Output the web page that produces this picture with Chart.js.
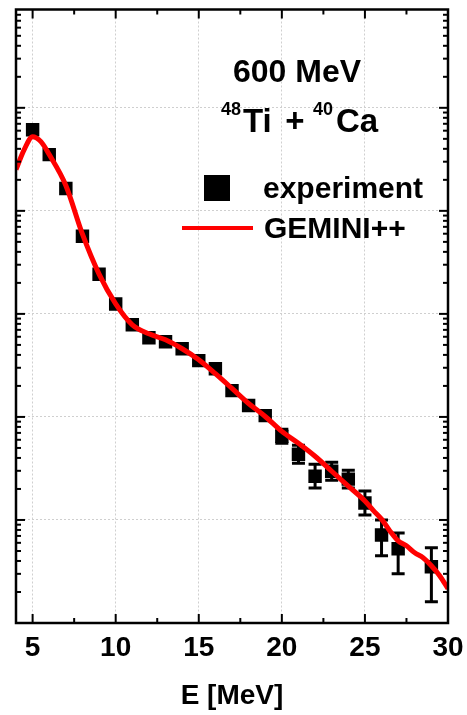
<!DOCTYPE html>
<html>
<head>
<meta charset="utf-8">
<script src="https://cdn.jsdelivr.net/npm/chart.js@4.4.1/dist/chart.umd.min.js"></script>
<style>
  html, body { margin: 0; padding: 0; background: #fff; }
  #wrap { width: 467px; height: 715px; position: relative; }
</style>
</head>
<body>
<div id="wrap"><canvas id="c" width="467" height="715"></canvas></div>
<script>
// Measured spectrum (arb. units, log scale)
const expE   = [5, 6, 7, 8, 9, 10, 11, 12, 13, 14, 15, 16, 17, 18, 19, 20, 21, 22, 23, 24, 25, 26, 27, 29];
const expVal = [6120, 3515, 1649, 567, 243, 125, 78.3, 58.6, 53.6, 45.9, 35.2, 29.4, 18.0, 12.9, 10.3,
                6.48, 4.34, 2.66, 2.97, 2.49, 1.46, 0.716, 0.525, 0.351];
const expLow  = [null, null, null, null, null, null, null, null, null, null, null, null, null, null, null,
                 5.54, 3.56, 2.04, 2.43, 2.04, 1.12, 0.449, 0.301, 0.161];
const expHigh = [null, null, null, null, null, null, null, null, null, null, null, null, null, null, null,
                 7.58, 5.31, 3.48, 3.63, 3.04, 1.91, 1.00, 0.749, 0.536];

// GEMINI++ calculation
const calcE   = [4, 4.5, 5, 5.5, 6, 7, 8, 9, 10, 11, 12, 13, 14, 15, 16, 17, 18, 19, 20, 21, 22, 23, 24, 25,
                 25.5, 26, 26.5, 27, 27.5, 28, 28.5, 29, 29.5, 30];
const calcVal = [2518, 3950, 5248, 4693, 3515, 1763, 593, 243, 125, 78.3, 64.1, 56.1, 45.9, 35.9, 26.3, 18.9,
                 13.5, 10.1, 7.24, 5.55, 4.15, 2.97, 2.13, 1.53, 1.24, 1.02, 0.783, 0.627, 0.561, 0.480,
                 0.430, 0.360, 0.288, 0.215];

const xTicks = [5, 10, 15, 20, 25, 30];
const xMinor = [7.5, 12.5, 17.5, 22.5, 27.5];
const yMin = 0.1, yMax = 9e4;

const FONT = '"Liberation Sans", Arial, Helvetica, sans-serif';

const isDecade = v => {
  const l = Math.log10(v);
  return Math.abs(l - Math.round(l)) < 1e-9;
};

// Error bars under the markers
const errorBars = {
  id: 'errorBars',
  beforeDatasetsDraw(chart) {
    const { ctx, chartArea: a, scales: { x, y } } = chart;
    ctx.save();
    ctx.beginPath();
    ctx.rect(a.left, a.top, a.right - a.left, a.bottom - a.top);
    ctx.clip();
    ctx.strokeStyle = '#000';
    ctx.lineWidth = 3;
    expE.forEach((e, i) => {
      if (expLow[i] == null) return;
      const px = x.getPixelForValue(e);
      const yl = y.getPixelForValue(expLow[i]);
      const yh = y.getPixelForValue(expHigh[i]);
      ctx.beginPath();
      ctx.moveTo(px, yl); ctx.lineTo(px, yh);
      ctx.moveTo(px - 6.5, yl); ctx.lineTo(px + 6.5, yl);
      ctx.moveTo(px - 6.5, yh); ctx.lineTo(px + 6.5, yh);
      ctx.stroke();
    });
    ctx.restore();
  }
};

// Box frame with inward ticks on all four sides, plus the in-plot labels
const frame = {
  id: 'frame',
  afterDraw(chart) {
    const { ctx, chartArea: a, scales: { x, y } } = chart;
    ctx.save();
    ctx.strokeStyle = '#000';
    ctx.lineWidth = 2;
    const seg = (x1, y1, x2, y2) => { ctx.beginPath(); ctx.moveTo(x1, y1); ctx.lineTo(x2, y2); ctx.stroke(); };

    xTicks.concat(xMinor).forEach(v => {
      const px = x.getPixelForValue(v);
      const len = xTicks.includes(v) ? 9 : 5;
      seg(px, a.bottom, px, a.bottom - len);
      seg(px, a.top, px, a.top + len);
    });
    for (let d = -1; d <= 4; d++) {
      for (let m = 1; m <= 9; m++) {
        const v = m * Math.pow(10, d);
        if (v <= yMin || v >= yMax) continue;
        const py = y.getPixelForValue(v);
        const len = m === 1 ? 9 : 5;
        seg(a.left, py, a.left + len, py);
        seg(a.right, py, a.right - len, py);
      }
    }
    ctx.lineWidth = 2.5;
    ctx.strokeRect(a.left, a.top, a.right - a.left, a.bottom - a.top);

    // Reaction labels
    ctx.fillStyle = '#000';
    ctx.textBaseline = 'alphabetic';
    ctx.textAlign = 'center';
    ctx.font = 'bold 32px ' + FONT;
    ctx.fillText('600 MeV', 297, 82);

    ctx.textAlign = 'left';
    ctx.font = 'bold 18px ' + FONT;
    ctx.fillText('48', 221, 115);
    ctx.fillText('40', 313, 115);
    ctx.font = 'bold 33px ' + FONT;
    ctx.fillText('Ti', 243, 132);
    ctx.fillText('Ca', 336, 132);
    ctx.textAlign = 'center';
    ctx.fillText('+', 295, 132);

    // Legend
    ctx.fillRect(204, 175, 26, 26);
    ctx.textAlign = 'left';
    ctx.font = 'bold 30px ' + FONT;
    ctx.fillText('experiment', 263, 198);
    ctx.strokeStyle = '#ff0000';
    ctx.lineWidth = 4;
    seg(182, 228, 253, 228);
    ctx.fillText('GEMINI++', 264, 238);
    ctx.restore();
  }
};

new Chart(document.getElementById('c'), {
  data: {
    datasets: [
      {
        type: 'line',
        label: 'GEMINI++',
        data: calcE.map((e, i) => ({ x: e, y: calcVal[i] })),
        borderColor: '#ff0000',
        borderWidth: 5,
        pointRadius: 0,
        fill: false,
        cubicInterpolationMode: 'monotone'
      },
      {
        type: 'scatter',
        label: 'experiment',
        data: expE.map((e, i) => ({ x: e, y: expVal[i] })),
        pointStyle: 'rect',
        pointRadius: 9.5,
        backgroundColor: '#000',
        borderColor: '#000',
        borderWidth: 0
      }
    ]
  },
  options: {
    responsive: false,
    animation: false,
    devicePixelRatio: 1,
    layout: { padding: { top: 6, right: 19, left: 0, bottom: 0 } },
    plugins: { legend: { display: false }, tooltip: { enabled: false } },
    scales: {
      x: {
        type: 'linear',
        min: 4,
        max: 30,
        afterBuildTicks: s => { s.ticks = xTicks.map(v => ({ value: v })); },
        afterFit: s => { s.height = 92; s.paddingLeft = 0; s.paddingRight = 0; },
        grid: {
          drawTicks: false,
          color: c => (c.tick && c.tick.value < 30) ? '#cfcfcf' : 'rgba(0,0,0,0)',
          lineWidth: 1
        },
        border: { display: false, dash: [2, 2] },
        ticks: {
          color: '#000',
          padding: 8,
          font: { family: FONT, size: 28, weight: 'bold' }
        },
        title: {
          display: true,
          text: 'E [MeV]',
          color: '#000',
          font: { family: FONT, size: 28, weight: 'bold' },
          padding: { top: 0, bottom: 2 }
        }
      },
      y: {
        type: 'logarithmic',
        min: yMin,
        max: yMax,
        afterFit: s => { s.width = 16; },
        grid: {
          drawTicks: false,
          color: c => (c.tick && isDecade(c.tick.value) && c.tick.value > yMin) ? '#cfcfcf' : 'rgba(0,0,0,0)',
          lineWidth: 1
        },
        border: { display: false, dash: [2, 2] },
        ticks: { display: false }
      }
    }
  },
  plugins: [errorBars, frame]
});
</script>
</body>
</html>
